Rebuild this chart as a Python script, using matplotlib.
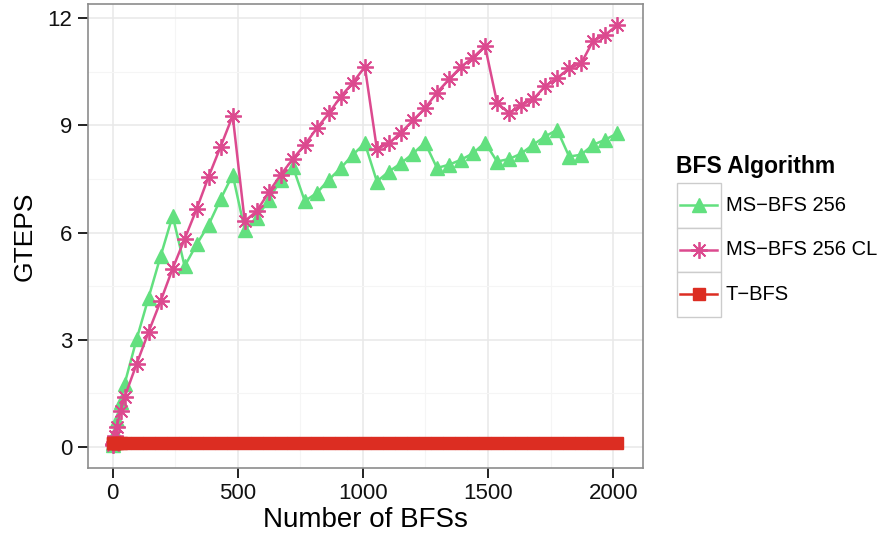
import numpy as np
import matplotlib
matplotlib.use("Agg")
import matplotlib.pyplot as plt
from matplotlib.patches import Rectangle
from matplotlib.lines import Line2D

plt.rcParams['font.family'] = ['Liberation Sans', 'DejaVu Sans']

# number of BFSs run
n_bfs = [1, 2, 4, 8, 16, 32,
         48, 96, 144, 192, 240, 288, 336, 384, 432, 480,
         528, 576, 624, 672, 720, 768, 816, 864, 912, 960,
         1008, 1056, 1104, 1152, 1200, 1248, 1296, 1344, 1392, 1440,
         1488, 1536, 1584, 1632, 1680, 1728, 1776, 1824, 1872, 1920,
         1968, 2016]

# GTEPS per algorithm
ms_bfs_256 = [0.06, 0.1, 0.2, 0.4, 0.75, 1.25,
              1.76, 3.01, 4.18, 5.34, 6.47, 5.06, 5.67, 6.22, 6.94, 7.62,
              6.08, 6.41, 6.92, 7.48, 7.85, 6.88, 7.11, 7.48, 7.81, 8.18,
              8.50, 7.43, 7.71, 7.94, 8.21, 8.52, 7.81, 7.90, 8.04, 8.22,
              8.52, 7.99, 8.06, 8.21, 8.46, 8.69, 8.88, 8.13, 8.18, 8.46,
              8.60, 8.78]
ms_bfs_256_cl = [0.05, 0.08, 0.15, 0.3, 0.55, 1.0,
                 1.39, 2.32, 3.22, 4.08, 4.99, 5.82, 6.66, 7.57, 8.41, 9.27,
                 6.32, 6.60, 7.13, 7.62, 8.06, 8.46, 8.92, 9.34, 9.81, 10.20,
                 10.64, 8.34, 8.50, 8.80, 9.14, 9.48, 9.92, 10.29, 10.64, 10.90,
                 11.22, 9.64, 9.34, 9.57, 9.73, 10.10, 10.32, 10.60, 10.74, 11.37,
                 11.53, 11.81]
t_bfs = [0.12] * len(n_bfs)

series = [
    ("MS\u2212BFS 256", ms_bfs_256, dict(color="#62e07f", marker="^", markersize=10)),
    ("MS\u2212BFS 256 CL", ms_bfs_256_cl, dict(color="#dc4a8f", marker=(8, 2, 0), markersize=12, markeredgewidth=1.3)),
    ("T\u2212BFS", t_bfs, dict(color="#dc2d22", marker="s", markersize=8.5)),
]

W, H = 883, 538
fig = plt.figure(figsize=(W / 100, H / 100), dpi=100)
ax = fig.add_axes([87.5 / W, 1 - 468 / H, (642.5 - 87.5) / W, (468 - 4) / H])

for name, vals, st in series:
    ax.plot(n_bfs, vals, lw=1.8, label=name, **st)

ax.set_xlim(-100, 2117)
ax.set_ylim(-0.59, 12.4)
ax.set_xticks([0, 500, 1000, 1500, 2000])
ax.set_yticks([0, 3, 6, 9, 12])
ax.set_xticks([250, 750, 1250, 1750], minor=True)
ax.set_yticks([1.5, 4.5, 7.5, 10.5], minor=True)
ax.grid(which="major", color="#e8e8e8", lw=1.1)
ax.grid(which="minor", color="#f5f5f5", lw=0.8)
ax.set_axisbelow(True)
for s in ax.spines.values():
    s.set_color("#8c8c8c")
    s.set_linewidth(1.2)
ax.tick_params(which="major", length=7, width=1.4, color="#222222", labelsize=16,
               labelcolor="#111111", pad=4)
ax.tick_params(which="minor", length=0)
ax.set_xlabel("Number of BFSs", fontsize=20, labelpad=2)
ax.set_ylabel("GTEPS", fontsize=19, labelpad=8)

# legend drawn by hand to get ggplot-style key boxes
lax = fig.add_axes([0, 0, 1, 1])
lax.set_xlim(0, W)
lax.set_ylim(H, 0)
lax.axis("off")
lax.text(676, 166, "BFS Algorithm", fontsize=16.5, fontweight="bold", va="center", ha="left")
row_top = 183
row_h = 44.5
for i, (name, vals, st) in enumerate(series):
    y0 = row_top + i * row_h
    lax.add_patch(Rectangle((676.5, y0), 44, row_h, facecolor="white", edgecolor="#cccccc", lw=1.0))
    yc = y0 + row_h / 2
    lax.add_line(Line2D([680, 698.5, 717], [yc, yc, yc], lw=1.8, markevery=[1], **st))
    lax.text(726, yc, name, fontsize=14.5, va="center", ha="left")

fig.savefig("out.png", dpi=100)
